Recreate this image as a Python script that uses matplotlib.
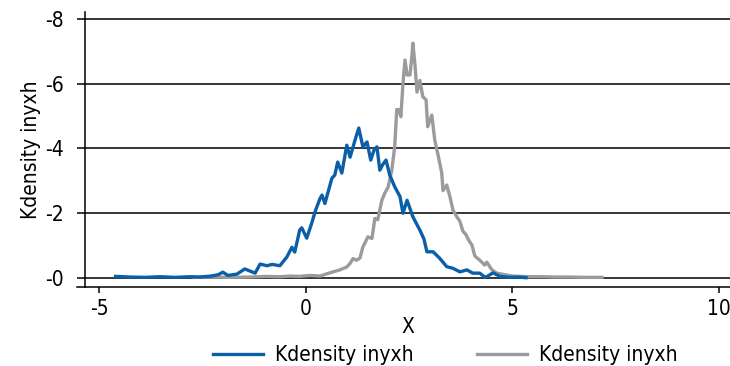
import matplotlib
matplotlib.use("Agg")
import matplotlib.pyplot as plt

plt.rcParams["font.family"] = ["DejaVu Sans"]
plt.rcParams["font.stretch"] = "condensed"
plt.rcParams["axes.unicode_minus"] = False

# blue curve
blue_x = [-4.61, -4.26, -3.90, -3.54, -3.17, -2.81, -2.57, -2.30, -2.13, -2.01,
          -1.89, -1.67, -1.48, -1.23, -1.11, -0.94, -0.82, -0.63, -0.46, -0.34,
          -0.27, -0.15, -0.10, 0.02, 0.15, 0.22, 0.34, 0.39, 0.46, 0.63,
          0.70, 0.77, 0.87, 0.99, 1.07, 1.19, 1.28, 1.38, 1.48, 1.57,
          1.65, 1.72, 1.79, 1.86, 1.94, 2.03, 2.15, 2.28, 2.35, 2.45,
          2.59, 2.76, 2.86, 2.93, 3.08, 3.24, 3.41, 3.56, 3.73, 3.90,
          4.04, 4.21, 4.33, 4.38, 4.53, 4.70, 4.94, 5.13, 5.33]
blue_y = [0.05, 0.03, 0.02, 0.04, 0.02, 0.04, 0.03, 0.06, 0.10, 0.18,
          0.08, 0.12, 0.28, 0.15, 0.43, 0.38, 0.42, 0.38, 0.65, 0.95,
          0.80, 1.48, 1.55, 1.23, 1.73, 2.04, 2.45, 2.56, 2.30, 3.08,
          3.18, 3.58, 3.24, 4.10, 3.73, 4.26, 4.63, 4.05, 4.20, 3.64,
          3.95, 4.05, 3.33, 3.50, 3.64, 3.18, 2.82, 2.51, 2.00, 2.40,
          1.89, 1.48, 1.20, 0.81, 0.81, 0.61, 0.35, 0.30, 0.19, 0.25,
          0.15, 0.15, 0.03, 0.04, 0.16, 0.05, 0.02, 0.03, 0.01]

# gray curve
gray_x = [-2.71, -2.32, -1.84, -1.36, -0.99, -0.63, -0.39, -0.15, 0.10, 0.34,
          0.58, 0.82, 0.99, 1.07, 1.14, 1.23, 1.31, 1.38, 1.43, 1.50,
          1.60, 1.67, 1.74, 1.84, 1.91, 1.99, 2.08, 2.15, 2.20, 2.25,
          2.30, 2.35, 2.40, 2.45, 2.52, 2.57, 2.59, 2.64, 2.69, 2.76,
          2.83, 2.91, 2.95, 3.05, 3.12, 3.20, 3.29, 3.32, 3.41, 3.49,
          3.56, 3.66, 3.73, 3.80, 3.87, 3.95, 4.02, 4.09, 4.21, 4.33,
          4.38, 4.50, 4.62, 4.75, 4.87, 5.01, 5.18, 5.42, 5.74, 6.03,
          6.39, 6.76, 7.17]
gray_y = [0.02, 0.03, 0.02, 0.03, 0.05, 0.04, 0.06, 0.05, 0.08, 0.06,
          0.16, 0.25, 0.34, 0.45, 0.60, 0.55, 0.62, 0.96, 1.08, 1.27,
          1.22, 1.84, 1.80, 2.40, 2.62, 2.80, 3.33, 4.05, 5.20, 5.20,
          4.98, 6.00, 6.73, 6.27, 6.27, 6.90, 7.25, 6.60, 5.74, 6.10,
          5.60, 5.50, 4.67, 5.03, 4.26, 3.80, 3.24, 2.70, 2.87, 2.50,
          2.10, 1.88, 1.75, 1.45, 1.35, 1.15, 1.02, 0.68, 0.55, 0.40,
          0.49, 0.26, 0.15, 0.12, 0.09, 0.06, 0.05, 0.04, 0.04, 0.03,
          0.03, 0.02, 0.02]

y_ticks = [0, 2, 4, 6, 8]
y_labels = ["-0", "-2", "-4", "-6", "-8"]
x_ticks = [-5, 0, 5, 10]
label = "Kdensity inyxh"

fig = plt.figure(figsize=(7.3, 3.66), dpi=100)
ax = fig.add_axes([0.1164, 0.2158, 0.8836, 0.7512])

for t in y_ticks:
    ax.axhline(t, color="black", lw=1.1, zorder=1)

ax.plot(blue_x, blue_y, color="#0B5EA8", lw=2.4, label=label, zorder=3)
ax.plot(gray_x, gray_y, color="#9B9B9D", lw=2.4, label=label, zorder=2)

ax.set_xlim(-5.35, 10.27)
ax.set_ylim(-0.278, 8.21)
ax.set_xticks(x_ticks)
ax.set_yticks(y_ticks)
ax.set_yticklabels(y_labels)

for s in ["top", "right"]:
    ax.spines[s].set_visible(False)
ax.spines["left"].set_linewidth(1.1)
ax.spines["bottom"].set_linewidth(1.1)
ax.plot([-0.013, 0], [0, 0], transform=ax.transAxes, color="black",
        lw=1.1, clip_on=False)

ax.tick_params(axis="y", length=6, width=1.1, pad=9, labelsize=15)
ax.tick_params(axis="x", length=4.5, width=1.1, pad=4, labelsize=15)
ax.set_xlabel("X", fontsize=15, labelpad=-1)
ax.set_ylabel(label, fontsize=15, labelpad=3)

fig.legend(loc="center", bbox_to_anchor=(0.61, 0.03), ncol=2, frameon=False,
           fontsize=15, handlelength=2.4, handletextpad=0.6,
           columnspacing=3.0)

fig.savefig("out.png", dpi=100)
